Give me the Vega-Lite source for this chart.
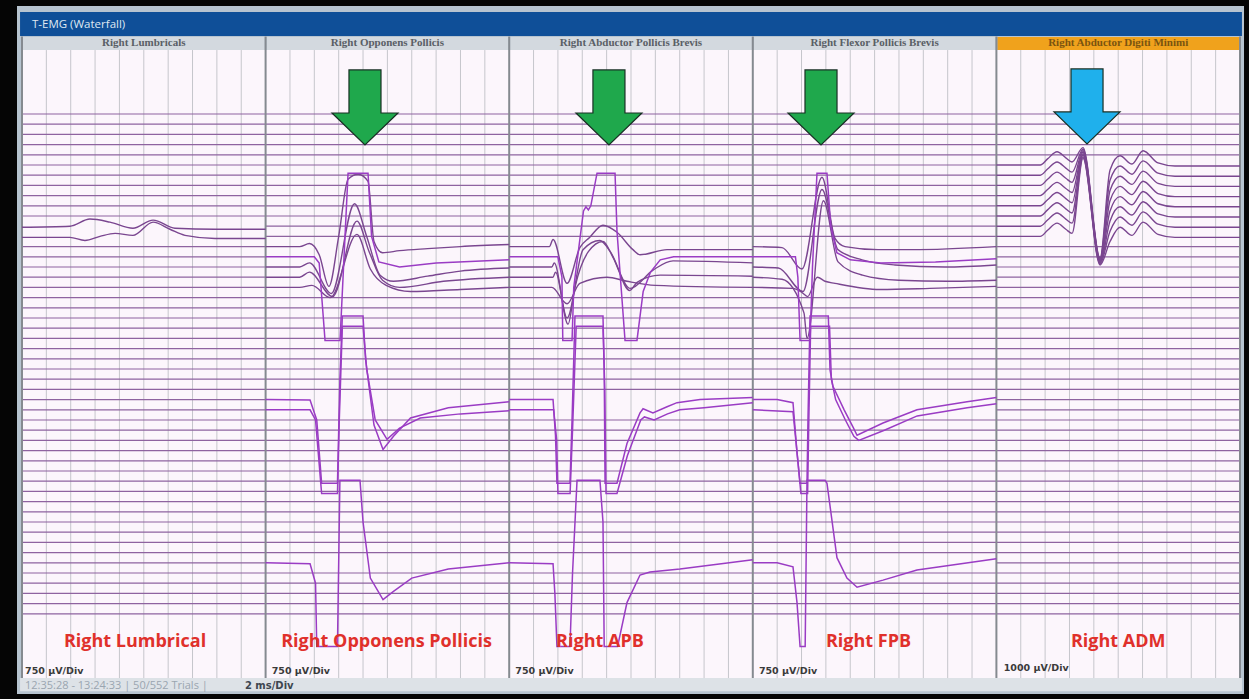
{
  "$schema": "https://vega.github.io/schema/vega-lite/v6.json",
  "width": 1249,
  "height": 699,
  "autosize": {"type": "fit", "contains": "padding"},
  "padding": 0,
  "background": "#050505",
  "config": {"view": {"stroke": null}},
  "resolve": {"scale": {"color": "independent"}},
  "datasets": {
    "boxes": [
      {"part": "frame", "x0": -0.41, "x1": 100.33, "y0": -10.59, "y1": 56.86},
      {"part": "header", "x0": -0.16, "x1": 100.16, "y0": -10.0, "y1": -7.65},
      {"part": "title", "x0": 0.08, "x1": 19.92, "y0": -7.55, "y1": -6.27},
      {"part": "title", "x0": 20.08, "x1": 39.92, "y0": -7.55, "y1": -6.27},
      {"part": "title", "x0": 40.08, "x1": 59.92, "y0": -7.55, "y1": -6.27},
      {"part": "title", "x0": 60.08, "x1": 79.92, "y0": -7.55, "y1": -6.27},
      {"part": "alert", "x0": 80.08, "x1": 99.92, "y0": -7.55, "y1": -6.27},
      {"part": "panel", "x0": 0, "x1": 100, "y0": -6.27, "y1": 55.3},
      {"part": "status", "x0": -0.16, "x1": 100.16, "y0": 55.3, "y1": 56.6}
    ],
    "grid": [
      {"gx": [2, 4, 6, 8, 10, 12, 14, 16, 18, 22, 24, 26, 28, 30, 32, 34, 36, 38, 42, 44, 46, 48, 50, 52, 54, 56, 58, 62, 64, 66, 68, 70, 72, 74, 76, 78, 82, 84, 86, 88, 90, 92, 94, 96, 98]}
    ],
    "borders": [
      {"bx": [0, 20, 40, 60, 80, 100]}
    ],
    "flat": [
      {"x0": 0, "x1": 20, "ks": [0,1,2,3,4,5,6,7,8,9,10,13,14,15,16,17,18,19,20,21,22,23,24,25,26,27,28,29,30,31,32,33,34,35,36,37,38,39,40,41,42,43,44,45,46,47,48,49]},
      {"x0": 20, "x1": 40, "ks": [0,1,2,3,4,5,6,7,8,9,10,11,12,18,19,20,21,22,23,24,25,26,27,30,31,32,33,34,35,36,37,38,39,40,41,42,43,45,46,47,48,49]},
      {"x0": 40, "x1": 60, "ks": [0,1,2,3,4,5,6,7,8,9,10,11,12,18,19,20,21,22,23,24,25,26,27,30,31,32,33,34,35,36,37,38,39,40,41,42,43,45,46,47,48,49]},
      {"x0": 60, "x1": 80, "ks": [0,1,2,3,4,5,6,7,8,9,10,11,12,18,19,20,21,22,23,24,25,26,27,30,31,32,33,34,35,36,37,38,39,40,41,42,43,45,46,47,48,49]},
      {"x0": 80, "x1": 100, "ks": [0,1,2,3,4,13,14,15,16,17,18,19,20,21,22,23,24,25,26,27,28,29,30,31,32,33,34,35,36,37,38,39,40,41,42,43,44,45,46,47,48,49]}
    ],
    "waves": [
      {"tr": "p0-11", "g": "a", "xs": [0,3.94,5.58,7.22,9.11,10.76,12.56,15.85,20], "ks": [11.1,11.0,10.3,10.6,11.2,10.4,11.2,11.3,11.3]},
      {"tr": "p0-12", "g": "a", "xs": [0,3.94,5.17,6.4,7.64,9.11,10.76,12.15,13.38,15.85,20], "ks": [12.1,12.1,12.4,12.0,11.7,11.9,10.6,11.3,11.9,12.2,12.2]},

      {"tr": "p1-13", "g": "a", "xs": [20,22.8,23.6,24.4,25.2,26.0,26.77,27.6,28.41,28.9,29.6,31.0,33.3,36,40], "ks": [13,13,12.7,13.8,16.9,12.0,6.4,5.9,6.6,12.5,13.6,13.4,13.2,13.0,12.8]},
      {"tr": "p1-14", "g": "b", "xs": [20,24.0,24.4,24.88,26.11,26.77,28.41,28.7,29.3,31,34,40], "ks": [14,14,14.6,22.2,22.2,5.8,5.8,12,14.5,15.0,14.6,14.3]},
      {"tr": "p1-15", "g": "a", "xs": [20,22.8,23.6,25.4,27.3,28.3,29.4,30.5,33.3,36,40], "ks": [15,15,14.6,17.6,8.8,12,15.8,16.4,15.9,15.4,15.1]},
      {"tr": "p1-16", "g": "a", "xs": [20,22.8,23.6,25.5,27.5,28.5,29.6,31,34.6,40], "ks": [16,16,15.5,17.9,10.5,13.5,16.3,17.0,16.4,16.0]},
      {"tr": "p1-17", "g": "a", "xs": [20,22.8,23.8,25.3,27.5,28.6,29.9,31.9,36,40], "ks": [17,17,16.8,18.0,11.8,15.2,16.8,17.4,17.2,17.0]},
      {"tr": "p1-28", "g": "b", "xs": [20,23.65,24.2,24.6,25.9,26.1,26.3,28.0,28.2,28.9,29.64,30.5,31.9,35,40], "ks": [28,28.05,30,36.2,36.2,26,19.8,19.8,24,30.5,32.9,31.6,29.8,28.8,28.2]},
      {"tr": "p1-29", "g": "b", "xs": [20,23.65,24.1,24.6,25.9,26.05,26.3,28.0,28.3,29.0,29.97,31,32.7,36,40], "ks": [29,29,30,37.2,37.2,30,20.8,20.8,25,30,31.9,30.8,29.8,29.4,29.1]},
      {"tr": "p1-44", "g": "b", "xs": [20,23.65,24.1,24.2,25.9,26.1,27.75,28.0,28.6,29.64,30.5,32,35,40], "ks": [44,44.1,46,52.2,52.2,35.9,35.9,40,45.5,47.6,46.8,45.5,44.6,44.0]},

      {"tr": "p2-13", "g": "a", "xs": [40,43.3,43.6,44.75,45.8,46.6,47.7,48.85,50.16,50.74,52.96,60], "ks": [13,13,12.3,16.6,13.1,12.1,10.9,11.6,13.3,13.8,13.3,13.3]},
      {"tr": "p2-14", "g": "b", "xs": [40,44.0,44.33,44.4,45.16,45.3,46.1,46.3,46.5,46.7,47.21,48.69,48.85,49.51,50.49,51.0,51.6,52.4,53.5,60], "ks": [14,14,16,22.2,22.2,17,9.5,9.1,9.4,9.0,5.8,5.8,11.5,22.2,22.2,17.4,15.5,14.3,14.0,14.0]},
      {"tr": "p2-15", "g": "a", "xs": [40,43.5,43.7,44.75,46.06,47.45,48.3,49.92,51.81,53.45,60], "ks": [15,15,14.6,20.0,13.3,12.4,13.5,17.1,15.3,14.4,14.6]},
      {"tr": "p2-16", "g": "a", "xs": [40,43.6,43.8,44.83,45.4,46.5,47.7,48.5,49.9,50.5,52.4,60], "ks": [16,16,15.5,20.6,17,13.5,12.5,14,17.3,16.5,15.8,15.9]},
      {"tr": "p2-17", "g": "a", "xs": [40,43.5,44.75,45.8,48.03,49.67,52,60], "ks": [17,17,18.6,16.6,16.0,16.4,16.8,17.0]},
      {"tr": "p2-28", "g": "b", "xs": [40,43.6,43.8,43.92,44.99,45.16,45.4,47.7,47.8,47.87,48.85,49.67,50.74,50.99,51.8,52.96,53.78,55.67,60], "ks": [28,28,31.5,36.2,36.2,30,19.8,19.8,25,36.2,36.2,32.3,29.3,28.9,29.3,28.7,28.3,28.0,27.8]},
      {"tr": "p2-29", "g": "b", "xs": [40,43.65,43.9,44.0,45.0,45.2,45.5,47.7,47.85,47.95,48.85,49.7,50.8,51.1,51.9,53,54,56,60], "ks": [29,29,32,37.2,37.2,31,20.8,20.8,27,37.2,37.2,33.5,30.0,29.7,30.0,29.4,29.0,28.8,28.3]},
      {"tr": "p2-44", "g": "b", "xs": [40,43.6,43.75,43.92,44.99,45.2,45.57,47.45,47.7,47.8,48.9,49.67,50.74,51.56,54.02,60], "ks": [44,44.1,47,52.2,52.2,45,35.9,35.9,40,52.2,52.2,47.9,45.2,44.9,44.6,43.7]},

      {"tr": "p3-13", "g": "a", "xs": [60,62.4,64.04,65.68,66.75,67.57,70.28,73.07,80], "ks": [13,13.1,15.2,6.2,12.2,13.0,13.3,13.3,13.0]},
      {"tr": "p3-14", "g": "b", "xs": [60,63.5,63.7,63.88,64.7,64.9,65.27,66.09,66.4,66.9,68,70.5,75,80], "ks": [14,14,16,22.2,22.2,15,5.8,5.8,11,13.6,14.3,14.6,14.5,14.2]},
      {"tr": "p3-15", "g": "a", "xs": [60,62.1,64.12,65.68,66.99,68.97,71.67,75.78,80], "ks": [15,15.1,17.4,7.4,13.3,14.3,14.8,15.0,14.8]},
      {"tr": "p3-16", "g": "a", "xs": [60,62.4,64.2,64.45,65.8,67.0,69,72,76,80], "ks": [16,16.2,19.5,22.0,8.5,14.5,15.8,16.3,16.4,16.3]},
      {"tr": "p3-17", "g": "a", "xs": [60,63.3,64.04,64.5,65.3,65.93,66.75,70.44,74.55,80], "ks": [17,17.1,17.5,17.9,16.0,16.4,16.6,17.2,17.1,16.9]},
      {"tr": "p3-28", "g": "b", "xs": [60,62.0,63.3,63.63,63.88,64.45,64.53,64.7,66.2,66.34,66.58,67.5,68.23,68.56,70.69,73.48,77.59,80], "ks": [28,28,28.3,33.2,36.2,36.2,30,19.8,19.8,25.1,26.7,29,30.7,31.5,30.3,29.0,28.2,27.8]},
      {"tr": "p3-29", "g": "b", "xs": [60,63.3,63.7,63.95,64.5,64.6,64.75,66.3,66.45,66.8,67.6,68.3,68.7,70.8,73.5,77.6,80], "ks": [29,29.2,34,37.2,37.2,30,20.8,20.8,26,28,30,31.6,32.0,31.0,29.6,28.8,28.4]},
      {"tr": "p3-44", "g": "b", "xs": [60,62.0,63.3,63.63,63.88,64.3,64.45,65.93,66.09,66.91,67.73,68.56,70.69,73.48,80], "ks": [44,44,44.4,47.9,52.2,52.2,35.9,35.9,36.2,43.5,45.5,46.4,45.7,44.7,43.6]},

      {"tr": "p4-5", "g": "a", "xs": [80,83.6,84.2,84.98,85.7,86.21,87.11,88.51,89.33,90.15,91.13,92.04,93.27,94.66,100], "ks": [5,5,4.4,3.7,4.3,4.7,3.3,14.1,5.5,4.1,4.9,3.6,4.8,5.1,5.1]},
      {"tr": "p4-6", "g": "a", "xs": [80,83.6,84.2,84.98,85.7,86.21,87.11,88.51,89.33,90.15,91.13,92.04,93.27,94.66,100], "ks": [6,6,5.4,4.7,5.3,5.7,3.45,14.2,6.5,5.1,5.9,4.6,5.8,6.1,6.1]},
      {"tr": "p4-7", "g": "a", "xs": [80,83.6,84.2,84.98,85.7,86.21,87.11,88.51,89.33,90.15,91.13,92.04,93.27,94.66,100], "ks": [7,7,6.4,5.7,6.3,6.7,3.6,14.3,7.5,6.1,6.9,5.6,6.8,7.1,7.1]},
      {"tr": "p4-8", "g": "a", "xs": [80,83.6,84.2,84.98,85.7,86.21,87.11,88.51,89.33,90.15,91.13,92.04,93.27,94.66,100], "ks": [8,8,7.4,6.7,7.3,7.7,3.75,14.4,8.5,7.1,7.9,6.6,7.8,8.1,8.1]},
      {"tr": "p4-9", "g": "a", "xs": [80,83.6,84.2,84.98,85.7,86.21,87.11,88.51,89.33,90.15,91.13,92.04,93.27,94.66,100], "ks": [9,9,8.4,7.7,8.3,8.7,3.9,14.5,9.5,8.1,8.9,7.6,8.8,9.1,9.1]},
      {"tr": "p4-10", "g": "a", "xs": [80,83.6,84.2,84.98,85.7,86.21,87.11,88.51,89.33,90.15,91.13,92.04,93.27,94.66,100], "ks": [10,10,9.4,8.7,9.3,9.7,4.05,14.6,10.5,9.1,9.9,8.6,9.8,10.1,10.1]},
      {"tr": "p4-11", "g": "a", "xs": [80,83.6,84.2,84.98,85.7,86.21,87.11,88.51,89.33,90.15,91.13,92.04,93.27,94.66,100], "ks": [11,11,10.4,9.7,10.3,10.7,4.2,14.7,11.5,10.1,10.9,9.6,10.8,11.1,11.1]},
      {"tr": "p4-12", "g": "a", "xs": [80,83.6,84.2,84.98,85.7,86.21,87.11,88.51,89.33,90.15,91.13,92.04,93.27,94.66,100], "ks": [12,12,11.4,10.7,11.3,11.7,4.35,14.8,12.5,11.1,11.9,10.6,11.8,12.1,12.1]}
    ],
    "arrows": [
      {"id": "a2", "kind": "green", "x": 28.16, "k": -0.64},
      {"id": "a3", "kind": "green", "x": 48.19, "k": -0.64},
      {"id": "a4", "kind": "green", "x": 65.6, "k": -0.64},
      {"id": "a5", "kind": "blue", "x": 87.44, "k": -0.74}
    ],
    "labels": [
      {"kind": "head", "x": 0.82, "y": -8.7, "txt": "T-EMG (Waterfall)"},
      {"kind": "title", "x": 10, "y": -6.93, "txt": "Right Lumbricals"},
      {"kind": "title", "x": 30, "y": -6.93, "txt": "Right Opponens Pollicis"},
      {"kind": "title", "x": 50, "y": -6.93, "txt": "Right Abductor Pollicis Brevis"},
      {"kind": "title", "x": 70, "y": -6.93, "txt": "Right Flexor Pollicis Brevis"},
      {"kind": "title5", "x": 90, "y": -6.93, "txt": "Right Abductor Digiti Minimi"},
      {"kind": "name", "x": 9.28, "y": 51.8, "txt": "Right Lumbrical"},
      {"kind": "name", "x": 29.93, "y": 51.8, "txt": "Right Opponens Pollicis"},
      {"kind": "name", "x": 47.45, "y": 51.8, "txt": "Right APB"},
      {"kind": "name", "x": 69.5, "y": 51.8, "txt": "Right FPB"},
      {"kind": "name", "x": 90.0, "y": 51.8, "txt": "Right ADM"},
      {"kind": "scale", "x": 0.25, "y": 54.6, "txt": "750 µV/Div"},
      {"kind": "scale", "x": 20.5, "y": 54.6, "txt": "750 µV/Div"},
      {"kind": "scale", "x": 40.5, "y": 54.6, "txt": "750 µV/Div"},
      {"kind": "scale", "x": 60.5, "y": 54.6, "txt": "750 µV/Div"},
      {"kind": "scale", "x": 80.6, "y": 54.3, "txt": "1000 µV/Div"},
      {"kind": "status", "x": 0.25, "y": 56.1, "txt": "12:35:28 - 13:24:33  |  50/552 Trials  |"},
      {"kind": "statusb", "x": 18.3, "y": 56.1, "txt": "2 ms/Div"}
    ]
  },
  "layer": [
    {
      "data": {"name": "boxes"},
      "mark": {"type": "rect"},
      "encoding": {
        "x": {"field": "x0", "type": "quantitative", "scale": {"domain": [-1.806, 100.739], "nice": false, "zero": false}, "axis": null},
        "x2": {"field": "x1"},
        "y": {"field": "y0", "type": "quantitative", "scale": {"domain": [-11.176, 57.353], "reverse": true, "nice": false, "zero": false}, "axis": null},
        "y2": {"field": "y1"},
        "color": {"field": "part", "type": "nominal", "legend": null,
          "scale": {"domain": ["frame", "header", "title", "alert", "panel", "status"], "range": ["#b7c4d0", "#0f4f98", "#d3d9df", "#f0a21c", "#fcf6fc", "#dde2e7"]}}
      }
    },
    {
      "data": {"name": "grid"},
      "transform": [{"flatten": ["gx"]}],
      "mark": {"type": "rule", "color": "#c6c6cc", "strokeWidth": 1},
      "encoding": {
        "x": {"field": "gx", "type": "quantitative"},
        "y": {"datum": -6.27, "type": "quantitative"},
        "y2": {"datum": 55.3}
      }
    },
    {
      "data": {"name": "flat"},
      "transform": [{"flatten": ["ks"], "as": ["k"]}],
      "mark": {"type": "rule", "color": "#8e63a0", "strokeWidth": 1.2},
      "encoding": {
        "x": {"field": "x0", "type": "quantitative"},
        "x2": {"field": "x1"},
        "y": {"field": "k", "type": "quantitative"}
      }
    },
    {
      "data": {"name": "borders"},
      "transform": [{"flatten": ["bx"]}],
      "mark": {"type": "rule", "color": "#858a90", "strokeWidth": 2},
      "encoding": {
        "x": {"field": "bx", "type": "quantitative"},
        "y": {"datum": -7.6, "type": "quantitative"},
        "y2": {"datum": 55.3}
      }
    },
    {
      "data": {"name": "waves"},
      "transform": [{"filter": "datum.g === 'a'"}, {"flatten": ["xs", "ks"], "as": ["x", "k"]}],
      "mark": {"type": "line", "strokeWidth": 1.4, "interpolate": "monotone", "color": "#7a4690"},
      "encoding": {
        "x": {"field": "x", "type": "quantitative"},
        "y": {"field": "k", "type": "quantitative"},
        "detail": {"field": "tr"}
      }
    },
    {
      "data": {"name": "waves"},
      "transform": [{"filter": "datum.g === 'b'"}, {"flatten": ["xs", "ks"], "as": ["x", "k"]}],
      "mark": {"type": "line", "strokeWidth": 1.5, "color": "#9a3cc4"},
      "encoding": {
        "x": {"field": "x", "type": "quantitative"},
        "y": {"field": "k", "type": "quantitative"},
        "detail": {"field": "tr"}
      }
    },
    {
      "data": {"name": "arrows"},
      "mark": {"type": "point", "filled": true, "opacity": 1, "size": 5625, "stroke": "#183024", "strokeWidth": 1.2,
        "shape": "M -0.427 -1 L 0.427 -1 L 0.427 0.147 L 0.88 0.147 L 0 1 L -0.88 0.147 L -0.427 0.147 Z"},
      "encoding": {
        "x": {"field": "x", "type": "quantitative"},
        "y": {"field": "k", "type": "quantitative"},
        "color": {"field": "kind", "type": "nominal", "legend": null,
          "scale": {"domain": ["green", "blue"], "range": ["#1fa84c", "#1fb0ec"]}}
      }
    },
    {
      "data": {"name": "labels"},
      "transform": [{"filter": "datum.kind === 'head'"}],
      "mark": {"type": "text", "align": "left", "baseline": "middle", "font": "Open Sans", "fontSize": 11.5, "color": "#dfe8f2"},
      "encoding": {"x": {"field": "x", "type": "quantitative"}, "y": {"field": "y", "type": "quantitative"}, "text": {"field": "txt"}}
    },
    {
      "data": {"name": "labels"},
      "transform": [{"filter": "datum.kind === 'title'"}],
      "mark": {"type": "text", "align": "center", "baseline": "middle", "font": "Liberation Serif", "fontWeight": "bold", "fontSize": 11, "color": "#5a5f66"},
      "encoding": {"x": {"field": "x", "type": "quantitative"}, "y": {"field": "y", "type": "quantitative"}, "text": {"field": "txt"}}
    },
    {
      "data": {"name": "labels"},
      "transform": [{"filter": "datum.kind === 'title5'"}],
      "mark": {"type": "text", "align": "center", "baseline": "middle", "font": "Liberation Serif", "fontWeight": "bold", "fontSize": 11, "color": "#7a5410"},
      "encoding": {"x": {"field": "x", "type": "quantitative"}, "y": {"field": "y", "type": "quantitative"}, "text": {"field": "txt"}}
    },
    {
      "data": {"name": "labels"},
      "transform": [{"filter": "datum.kind === 'name'"}],
      "mark": {"type": "text", "align": "center", "baseline": "middle", "font": "Open Sans", "fontWeight": "bold", "fontSize": 18, "color": "#e0302b"},
      "encoding": {"x": {"field": "x", "type": "quantitative"}, "y": {"field": "y", "type": "quantitative"}, "text": {"field": "txt"}}
    },
    {
      "data": {"name": "labels"},
      "transform": [{"filter": "datum.kind === 'scale'"}],
      "mark": {"type": "text", "align": "left", "baseline": "middle", "font": "DejaVu Sans", "fontWeight": "bold", "fontSize": 9.5, "color": "#3a3a3a"},
      "encoding": {"x": {"field": "x", "type": "quantitative"}, "y": {"field": "y", "type": "quantitative"}, "text": {"field": "txt"}}
    },
    {
      "data": {"name": "labels"},
      "transform": [{"filter": "datum.kind === 'status'"}],
      "mark": {"type": "text", "align": "left", "baseline": "middle", "font": "Open Sans", "fontSize": 11, "color": "#9aa5b0"},
      "encoding": {"x": {"field": "x", "type": "quantitative"}, "y": {"field": "y", "type": "quantitative"}, "text": {"field": "txt"}}
    },
    {
      "data": {"name": "labels"},
      "transform": [{"filter": "datum.kind === 'statusb'"}],
      "mark": {"type": "text", "align": "left", "baseline": "middle", "font": "DejaVu Sans", "fontWeight": "bold", "fontSize": 10, "color": "#3d4650"},
      "encoding": {"x": {"field": "x", "type": "quantitative"}, "y": {"field": "y", "type": "quantitative"}, "text": {"field": "txt"}}
    }
  ]
}
